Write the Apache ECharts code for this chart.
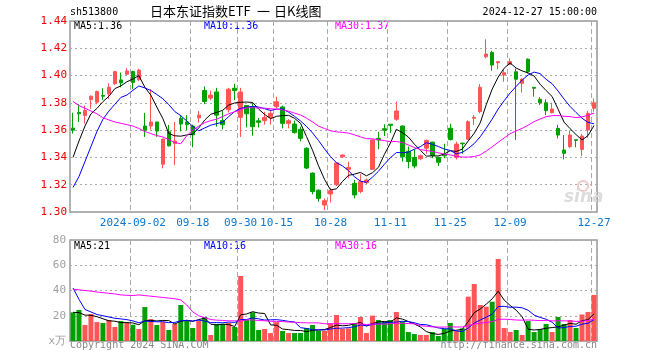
<!DOCTYPE html>
<html><head><meta charset="utf-8">
<script src="https://cdn.jsdelivr.net/npm/echarts@6/dist/echarts.min.js"></script>
<style>html,body{margin:0;padding:0;background:#fff}#c{width:660px;height:360px}</style>
</head><body><div id="c"></div>
<script>
const dates = [
'2024-08-19','2024-08-20','2024-08-21','2024-08-22','2024-08-23','2024-08-26','2024-08-27','2024-08-28','2024-08-29','2024-08-30',
'2024-09-02','2024-09-03','2024-09-04','2024-09-05','2024-09-06','2024-09-09','2024-09-10','2024-09-11','2024-09-12','2024-09-13',
'2024-09-18','2024-09-19','2024-09-20','2024-09-23','2024-09-24','2024-09-25','2024-09-26','2024-09-27','2024-09-30',
'2024-10-08','2024-10-09','2024-10-10','2024-10-11','2024-10-14','2024-10-15','2024-10-16','2024-10-17','2024-10-18',
'2024-10-21','2024-10-22','2024-10-23','2024-10-24','2024-10-25','2024-10-28','2024-10-29','2024-10-30','2024-10-31',
'2024-11-01','2024-11-04','2024-11-05','2024-11-06','2024-11-07','2024-11-08','2024-11-11','2024-11-12','2024-11-13','2024-11-14','2024-11-15',
'2024-11-18','2024-11-19','2024-11-20','2024-11-21','2024-11-22','2024-11-25','2024-11-26','2024-11-27','2024-11-28','2024-11-29',
'2024-12-02','2024-12-03','2024-12-04','2024-12-05','2024-12-06','2024-12-09','2024-12-10','2024-12-11','2024-12-12','2024-12-13',
'2024-12-16','2024-12-17','2024-12-18','2024-12-19','2024-12-20','2024-12-23','2024-12-24','2024-12-25','2024-12-26','2024-12-27'];
const labelDates = ['2024-09-02','2024-09-18','2024-09-30','2024-10-15','2024-10-28','2024-11-11','2024-11-25','2024-12-09','2024-12-27'];

const opens = [1.3615,1.373,1.3707,1.3824,1.3805,1.3854,1.3866,1.3941,1.3968,1.401,
1.403,1.397,1.363,1.363,1.366,1.335,1.3588,1.3503,1.3687,1.366,
1.363,1.369,1.389,1.3835,1.388,1.367,1.375,1.3907,1.3694,
1.378,1.377,1.3668,1.367,1.3694,1.3772,1.377,1.365,1.3645,1.3606,
1.3467,1.3285,1.316,1.3051,1.3132,1.320,1.3405,1.3313,1.321,1.315,
1.3215,1.3313,1.354,1.361,1.3643,1.368,1.363,1.3445,1.340,1.339,
1.3468,1.3512,1.340,1.3424,1.3614,1.340,1.3505,1.3533,1.3687,1.3735,
1.4138,1.417,1.4094,1.4004,1.4083,1.4028,1.3943,1.412,1.3914,1.3826,
1.3801,1.3728,1.3613,1.3454,1.3479,1.353,1.3459,1.3601,1.376];
const closes = [1.360,1.372,1.3744,1.3849,1.3883,1.3849,1.3914,1.4029,1.3946,1.4034,
1.395,1.404,1.360,1.366,1.3593,1.3535,1.3485,1.352,1.3645,1.364,
1.3565,1.371,1.381,1.3857,1.371,1.364,1.390,1.389,1.388,
1.372,1.3625,1.3658,1.3694,1.3723,1.3808,1.365,1.3669,1.3582,1.354,
1.3322,1.315,1.310,1.3083,1.3156,1.336,1.3418,1.3327,1.3125,1.3222,
1.3235,1.3528,1.3528,1.360,1.3635,1.374,1.3405,1.337,1.3337,1.3412,
1.3524,1.3414,1.3365,1.3412,1.3531,1.3498,1.350,1.3662,1.3694,1.3914,
1.4158,1.4077,1.4102,1.4021,1.4102,1.3973,1.3973,1.4028,1.3907,1.3801,
1.3743,1.3755,1.3564,1.343,1.3564,1.3525,1.3557,1.3723,1.3801];
const lows = [1.3575,1.366,1.3647,1.3756,1.379,1.3822,1.3829,1.3931,1.3914,1.4005,
1.390,1.396,1.355,1.3605,1.355,1.332,1.348,1.3344,1.359,1.360,
1.3475,1.3655,1.379,1.382,1.3625,1.3605,1.373,1.382,1.355,
1.362,1.356,1.362,1.364,1.364,1.376,1.3613,1.3613,1.3575,1.3518,
1.3315,1.313,1.3075,1.3015,1.307,1.319,1.3395,1.3247,1.310,1.3137,
1.3205,1.331,1.346,1.3557,1.358,1.3669,1.337,1.332,1.332,1.338,
1.3427,1.3395,1.3338,1.3395,1.3524,1.3385,1.3427,1.353,1.3638,1.3723,
1.4126,1.4035,1.4046,1.3955,1.4077,1.3528,1.3875,1.4016,1.3845,1.3784,
1.3711,1.3723,1.354,1.3386,1.3467,1.3474,1.341,1.3545,1.3735];
const highs = [1.3728,1.379,1.378,1.3854,1.389,1.3907,1.3943,1.4034,1.4022,1.4054,
1.4035,1.405,1.3726,1.390,1.366,1.3535,1.3638,1.366,1.371,1.371,
1.364,1.374,1.392,1.389,1.391,1.374,1.391,1.394,1.391,
1.378,1.380,1.369,1.3735,1.375,1.3845,1.378,1.368,1.367,1.3625,
1.3475,1.329,1.3165,1.310,1.3175,1.336,1.3422,1.337,1.3235,1.328,
1.3245,1.3535,1.3588,1.3643,1.3645,1.381,1.3635,1.348,1.346,1.3422,
1.3531,1.3515,1.3405,1.350,1.3646,1.3515,1.3505,1.3672,1.371,1.3938,
1.4266,1.4182,1.4107,1.4041,1.4126,1.4053,1.398,1.4126,1.3914,1.3841,
1.3826,1.3801,1.3638,1.3564,1.3596,1.3532,1.3572,1.374,1.3833];
const volumes = [22.7,24.6,12.7,21.4,15.0,14.3,16.6,11.1,15.8,15.0,
12.9,9.5,26.9,17.4,12.7,15.0,8.7,13.5,28.5,16.6,
10.3,15.8,19.0,4.8,13.5,13.5,14.3,11.1,51.5,16.6,
22.7,8.7,9.5,6.3,15.0,7.9,6.3,6.3,6.3,10.3,
12.7,8.2,7.9,14.0,20.6,9.5,10.0,14.0,19.0,6.3,
20.1,16.6,15.3,16.6,23.0,15.3,7.1,5.5,4.8,4.8,
7.1,4.0,9.5,14.3,7.9,10.0,35.1,45.1,28.5,27.2,
31.1,65.0,10.3,7.1,8.7,4.8,15.8,7.1,9.5,13.5,
7.1,19.0,13.5,16.6,10.3,21.0,23.0,36.5];

// moving-average values before enough in-window data exists
const ma5Head = [1.340,1.352,1.363,1.372];
const ma10Head = [1.318,1.326,1.337,1.348,1.359,1.368,1.374,1.379,1.384];
const ma30Head = [1.381,1.378,1.376,1.374,1.372,1.369,1.3675,1.366,1.365,1.364,
1.363,1.3612,1.359,1.3575,1.356,1.355,1.353,1.351,1.350,1.356,
1.360,1.363,1.3655,1.367,1.368,1.370,1.372,1.3735,1.375];
const volMa5Head = [22.7,22.5,20.5,20.3];
const volMa10Head = [42,33,25,23,21,20,19,18,17.5];
const volMa30Head = [41.0,40.5,40.0,39.5,38.8,38.3,37.8,37.3,36.5,36.2,
36.0,36.5,36.0,35.5,35.0,34.5,34.0,33.5,32.5,28.5,
23.0,20.0,18.5,17.0,16.5,16.3,16.0,16.0,15.8];

function ma(vals, n, head){
  const out=[];
  for(let i=0;i<vals.length;i++){
    if(i<n-1){out.push(head[i]);continue;}
    let s=0; for(let k=i-n+1;k<=i;k++) s+=vals[k];
    out.push(+(s/n).toFixed(5));
  }
  return out;
}
const UP='#FF5555', DOWN='#00A000';
const mono='"DejaVu Sans Mono", "Liberation Mono", monospace';
const kData = opens.map((o,i)=>[o,closes[i],lows[i],highs[i]]);
const volData = volumes.map((v,i)=>({value:v,itemStyle:{color:closes[i]>=opens[i]?UP:DOWN}}));
const isLbl=(i,v)=>labelDates.indexOf(typeof v==='string'?v:dates[i])>=0;

const chart = echarts.init(document.getElementById('c'),null,{renderer:'canvas'});
const splitX = {show:true, interval:(i,v)=>isLbl(i,v), lineStyle:{type:[5,3],color:'#aaa',width:1}};
const lineS = (name,data,color,xi,yi)=>({name,type:'line',data,xAxisIndex:xi,yAxisIndex:yi,symbol:'none',smooth:false,lineStyle:{color,width:1},z:5,silent:true});
chart.setOption({
  animation:false,
  backgroundColor:'#fff',
  grid:[
    {left:70,right:63,top:21,height:191,show:true,borderColor:'#999',borderWidth:1.5},
    {left:70,right:63,top:240,height:101,show:true,borderColor:'#999',borderWidth:1.5}
  ],
  xAxis:[
    {type:'category',gridIndex:0,data:dates,boundaryGap:true,
     axisLine:{show:false},axisTick:{show:false},
     axisLabel:{interval:(i,v)=>isLbl(i,v),formatter:v=>v==='2024-09-02'?v:v.slice(5),color:'#0A78D0',fontFamily:mono,fontSize:11,margin:6},
     splitLine:splitX},
    {type:'category',gridIndex:1,data:dates,boundaryGap:true,
     axisLine:{show:false},axisTick:{show:false},axisLabel:{show:false},splitLine:splitX}
  ],
  yAxis:[
    {type:'value',gridIndex:0,min:1.30,max:1.44,interval:0.02,scale:true,
     axisLine:{show:false},axisTick:{show:false},
     axisLabel:{formatter:v=>v.toFixed(2),color:'#EE0000',fontFamily:mono,fontSize:11,margin:3},
     splitLine:{show:true,lineStyle:{type:[2,3],color:'#aaa'}}},
    {type:'value',gridIndex:1,min:0,max:80,interval:20,
     axisLine:{show:false},axisTick:{show:false},
     axisLabel:{formatter:v=>v===0?'x万':String(v),color:'#A0A0A0',fontFamily:mono,fontSize:11,margin:4},
     splitLine:{show:true,lineStyle:{type:[2,3],color:'#aaa'}}}
  ],
  series:[
    {type:'candlestick',xAxisIndex:0,yAxisIndex:0,data:kData,barWidth:4,
     itemStyle:{color:UP,color0:DOWN,borderColor:UP,borderColor0:DOWN,borderWidth:1},silent:true},
    lineS('MA5',ma(closes,5,ma5Head),'#000000',0,0),
    lineS('MA10',ma(closes,10,ma10Head),'#0000FF',0,0),
    lineS('MA30',ma(closes,30,ma30Head),'#FF00FF',0,0),
    {type:'bar',xAxisIndex:1,yAxisIndex:1,data:volData,barWidth:5,silent:true},
    lineS('VMA5',ma(volumes,5,volMa5Head),'#000000',1,1),
    lineS('VMA10',ma(volumes,10,volMa10Head),'#0000FF',1,1),
    lineS('VMA30',ma(volumes,30,volMa30Head),'#FF00FF',1,1)
  ],
  graphic:[
    {type:'text',left:70,top:7,style:{text:'sh513800',font:'10px '+mono,fill:'#000'}},
    {type:'text',left:150,top:5,style:{text:'日本东证指数ETF',font:'13px "Noto Sans CJK SC"',fill:'#000'}},
    {type:'text',left:257,top:5,style:{text:'一',font:'13px "Noto Sans CJK SC"',fill:'#000'}},
    {type:'text',left:274,top:5,style:{text:'日K线图',font:'13px "Noto Sans CJK SC"',fill:'#000'}},
    {type:'text',right:63,top:7,style:{text:'2024-12-27 15:00:00',font:'10px '+mono,fill:'#000'}},
    {type:'text',left:74,top:21,style:{text:'MA5:1.36',font:'10px '+mono,fill:'#000'}},
    {type:'text',left:204,top:21,style:{text:'MA10:1.36',font:'10px '+mono,fill:'#0000FF'}},
    {type:'text',left:335,top:21,style:{text:'MA30:1.37',font:'10px '+mono,fill:'#FF00FF'}},
    {type:'text',left:74,top:241,style:{text:'MA5:21',font:'10px '+mono,fill:'#000'}},
    {type:'text',left:204,top:241,style:{text:'MA10:16',font:'10px '+mono,fill:'#0000FF'}},
    {type:'text',left:335,top:241,style:{text:'MA30:16',font:'10px '+mono,fill:'#FF00FF'}},
    {type:'text',left:70,top:340,style:{text:'Copyright 2024 SINA.COM',font:'10px '+mono,fill:'#888'}},
    {type:'text',right:63,top:340,style:{text:'http://finance.sina.com.cn',font:'10px '+mono,fill:'#888'}},
    {type:'circle',shape:{cx:583,cy:186,r:5},style:{fill:'none',stroke:'#f0c8c8',lineWidth:2}},
    {type:'text',left:564,top:189,style:{text:'sina',font:'italic bold 17px "DejaVu Sans"',fill:'#dcdcdc'}}
  ]
});
</script></body></html>
